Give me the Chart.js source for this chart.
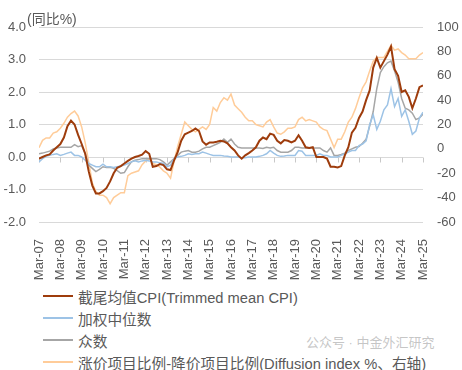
<!DOCTYPE html>
<html>
<head>
<meta charset="utf-8">
<script src="https://cdn.jsdelivr.net/npm/chart.js@4.4.1/dist/chart.umd.min.js"></script>
<style>
  body { margin: 0; background: #fff; font-family: "Liberation Sans", "Noto Sans CJK SC", sans-serif; }
  #wrap { position: relative; width: 462px; height: 370px; overflow: hidden; }
  #chart { position: absolute; left: 0; top: 0; }
  #unit { position: absolute; left: 27px; top: 8px; font-size: 14px; color: #595959; }
  #legend { position: absolute; left: 43px; top: 285px; font-size: 14.7px; color: #595959; }
  .row { height: 22px; display: flex; align-items: center; white-space: nowrap; }
  .row i { display: inline-block; width: 30px; height: 2px; margin-right: 5px; }
  #wm { position: absolute; left: 306px; top: 332px; font-size: 13px; color: rgba(160,160,160,0.6); }
</style>
</head>
<body>
<div id="wrap">
  <canvas id="chart" width="462" height="282"></canvas>
  <div id="unit">(同比%)</div>
  <div id="legend"></div>
  <div id="wm">公众号 · 中金外汇研究</div>
</div>
<script>
// x axis: months since Mar-07, one tick label per March
const tickLabels = ["Mar-07","Mar-08","Mar-09","Mar-10","Mar-11","Mar-12","Mar-13","Mar-14","Mar-15",
  "Mar-16","Mar-17","Mar-18","Mar-19","Mar-20","Mar-21","Mar-22","Mar-23","Mar-24","Mar-25"];

// readings taken every 2 months, Mar-07 .. Mar-25
const months = Array.from({ length: 109 }, (_, i) => i * 2);

const trimmed = [
  -0.05, 0.0, 0.05, 0.08, 0.2, 0.3, 0.4, 0.6, 0.95, 1.12,
  1.0, 0.68, 0.4, 0.1, -0.45, -0.88, -1.12, -1.12, -1.05, -0.95,
  -0.75, -0.5, -0.33, -0.28, -0.2, -0.12, -0.05, 0.0, 0.03, 0.07,
  0.18, 0.1, -0.3, -0.28, -0.22, -0.25, -0.38, -0.4, -0.1, 0.15,
  0.5, 0.7, 0.75, 0.8, 0.88, 0.8, 0.48, 0.38, 0.45, 0.45,
  0.47, 0.5, 0.48, 0.42, 0.3, 0.2, 0.05, -0.05, 0.05, 0.12,
  0.2, 0.3, 0.5, 0.6, 0.55, 0.72, 0.68, 0.5, 0.42, 0.52,
  0.5, 0.45, 0.5, 0.67, 0.5, 0.3, 0.28, 0.3, 0.0, 0.0,
  0.0, -0.05, -0.3, -0.3, -0.32, -0.28, 0.05, 0.3, 0.75, 0.9,
  1.2, 1.4, 1.75, 2.05, 2.75, 3.05, 2.75, 2.95, 3.15, 3.4,
  2.7, 2.5, 2.0, 2.05, 1.85, 1.5, 1.8, 2.15, 2.2
];

const median = [
  -0.15, -0.05, 0.02, 0.05, 0.08, 0.1, 0.05, 0.08, 0.12, 0.15,
  0.05, 0.05, 0.0, -0.1, -0.2, -0.25, -0.3, -0.3, -0.22, -0.3,
  -0.3, -0.32, -0.3, -0.28, -0.25, -0.2, -0.15, -0.12, -0.15, -0.12,
  -0.1, -0.12, -0.15, -0.15, -0.18, -0.2, -0.3, -0.25, -0.05, 0.0,
  0.02, 0.05, 0.1, 0.08, 0.1, 0.1, 0.15, 0.12, 0.08, 0.05,
  0.05, 0.05, 0.03, 0.02, 0.0, 0.0, 0.0, -0.02, -0.02, 0.0,
  0.0, 0.0, 0.02, 0.05, 0.1, 0.2, 0.12, 0.05, 0.02, 0.03,
  0.05, 0.05, 0.05, 0.2, 0.18, 0.05, 0.05, 0.05, 0.05, 0.1,
  0.05, 0.05, 0.0, 0.0, 0.0, 0.05, 0.1, 0.15, 0.2, 0.2,
  0.35, 0.4, 0.5, 1.0, 1.3, 0.85, 1.1, 1.45, 1.6, 2.1,
  1.55, 1.8, 1.25, 1.45, 1.1, 0.7, 0.8, 1.2, 1.38
];

const mode = [
  0.1, 0.12, 0.15, 0.18, 0.25, 0.28, 0.3, 0.3, 0.3, 0.3,
  0.38, 0.32, 0.35, 0.1, -0.25, -0.35, -0.45, -0.38, -0.3, -0.32,
  -0.32, -0.35, -0.42, -0.5, -0.48, -0.3, -0.15, -0.1, -0.08, -0.05,
  -0.05, -0.05, -0.05, -0.05, -0.08, -0.15, -0.25, -0.15, -0.05, 0.05,
  0.15, 0.18, 0.2, 0.15, 0.15, 0.18, 0.25, 0.3, 0.3, 0.35,
  0.4, 0.45, 0.55, 0.45, 0.55, 0.4, 0.3, 0.28, 0.28, 0.28,
  0.28, 0.28, 0.28, 0.26, 0.3, 0.28, 0.3, 0.2, 0.15, 0.15,
  0.15, 0.2, 0.3, 0.3, 0.28, 0.28, 0.28, 0.28, 0.28, 0.28,
  0.2, 0.15, 0.28, 0.05, 0.05, 0.08, 0.12, 0.2, 0.25, 0.3,
  0.32, 0.42, 0.55, 0.95, 1.4, 2.1, 2.6, 2.78, 2.9, 2.95,
  2.65, 2.3, 1.8, 1.5, 1.45, 1.35, 1.15, 1.2, 1.32
];

// diffusion index, right axis
const diffusion = [
  1, 7, 9, 9, 13, 14, 17, 21, 26, 29,
  31, 27, 18, 5, -11, -28, -35, -38, -38, -40,
  -45, -40, -38, -36, -36, -22, -20, -19, -18, -13,
  -10, -8, -12, -13, -15, -18, -20, -24, -10, 2,
  12, 22, 19, 16, 14, 16, 18, 16, 20, 34,
  31, 38, 42, 40, 45, 36, 33, 30, 26, 23,
  23, 20, 19, 18, 22, 24, 18, 13, 12, 14,
  17, 17, 18, 24, 26, 23, 24, 23, 22, 18,
  16, 15, 8, 1, 8, 8, 14, 22, 26, 33,
  42, 50, 55, 64, 72, 75, 75, 75, 80, 85,
  81, 82, 79, 77, 74, 74, 74, 77, 79
];

const seriesNames = ["截尾均值CPI(Trimmed mean CPI)", "加权中位数", "众数", "涨价项目比例-降价项目比例(Diffusion index %、右轴)"];
const seriesColors = ["#9e3c0c", "#9dc3e6", "#a6a6a6", "#ffcc99"];

function toPoints(values) {
  return values.map((v, i) => ({ x: months[i], y: v }));
}

// small tick marks sitting on the zero line, like the Excel category axis
const zeroTicks = {
  id: "zeroTicks",
  beforeDatasetsDraw(chart) {
    const ctx = chart.ctx;
    const xs = chart.scales.x;
    const y0 = Math.round(chart.scales.y.getPixelForValue(0)) + 0.5;
    ctx.save();
    ctx.strokeStyle = "#c8c8c8";
    ctx.lineWidth = 1;
    ctx.beginPath();
    for (let i = 0; i < tickLabels.length; i++) {
      const x = Math.round(xs.getPixelForValue(i * 12)) + 0.5;
      ctx.moveTo(x, y0);
      ctx.lineTo(x, y0 + 5);
    }
    ctx.stroke();
    ctx.restore();
  }
};

const font = { family: '"Liberation Sans", "Noto Sans CJK SC", sans-serif', size: 13 };

new Chart(document.getElementById("chart"), {
  type: "line",
  data: {
    datasets: [
      { label: seriesNames[0], data: toPoints(trimmed), borderColor: seriesColors[0], borderWidth: 2, yAxisID: "y" },
      { label: seriesNames[1], data: toPoints(median), borderColor: seriesColors[1], borderWidth: 1.5, yAxisID: "y" },
      { label: seriesNames[2], data: toPoints(mode), borderColor: seriesColors[2], borderWidth: 1.5, yAxisID: "y" },
      { label: seriesNames[3], data: toPoints(diffusion), borderColor: seriesColors[3], borderWidth: 1.5, yAxisID: "y2" }
    ]
  },
  options: {
    responsive: false,
    animation: false,
    devicePixelRatio: 1,
    layout: { padding: { top: 27, left: 0, right: 0, bottom: 0 } },
    elements: { point: { radius: 0 }, line: { tension: 0 } },
    plugins: { legend: { display: false }, tooltip: { enabled: false } },
    scales: {
      x: {
        type: "linear",
        min: 0,
        max: 216,
        afterFit(scale) { scale.height = 60; },
        afterBuildTicks(scale) { scale.ticks = tickLabels.map((_, i) => ({ value: i * 12 })); },
        ticks: {
          autoSkip: false,
          minRotation: 90,
          maxRotation: 90,
          padding: 9,
          color: "#595959",
          font: { family: font.family, size: 13 },
          callback: (v) => tickLabels[Math.round(v / 12)]
        },
        grid: { display: false },
        border: { display: false }
      },
      y: {
        position: "left",
        min: -2,
        max: 4,
        afterFit(scale) { scale.width = 39; },
        ticks: { stepSize: 1, padding: 13, color: "#595959", font: font, callback: (v) => v.toFixed(1) },
        grid: { color: "#d9d9d9", drawTicks: false },
        border: { display: false }
      },
      y2: {
        position: "right",
        min: -60,
        max: 100,
        afterFit(scale) { scale.width = 39; },
        ticks: { stepSize: 20, padding: 14, color: "#595959", font: font },
        grid: { display: false, drawTicks: false },
        border: { display: false }
      }
    }
  },
  plugins: [zeroTicks]
});

// legend, one item per row as in the source
const legend = document.getElementById("legend");
seriesNames.forEach((name, i) => {
  const row = document.createElement("div");
  row.className = "row";
  row.innerHTML = '<i style="background:' + seriesColors[i] + '"></i><span>' + name + "</span>";
  legend.appendChild(row);
});
</script>
</body>
</html>
